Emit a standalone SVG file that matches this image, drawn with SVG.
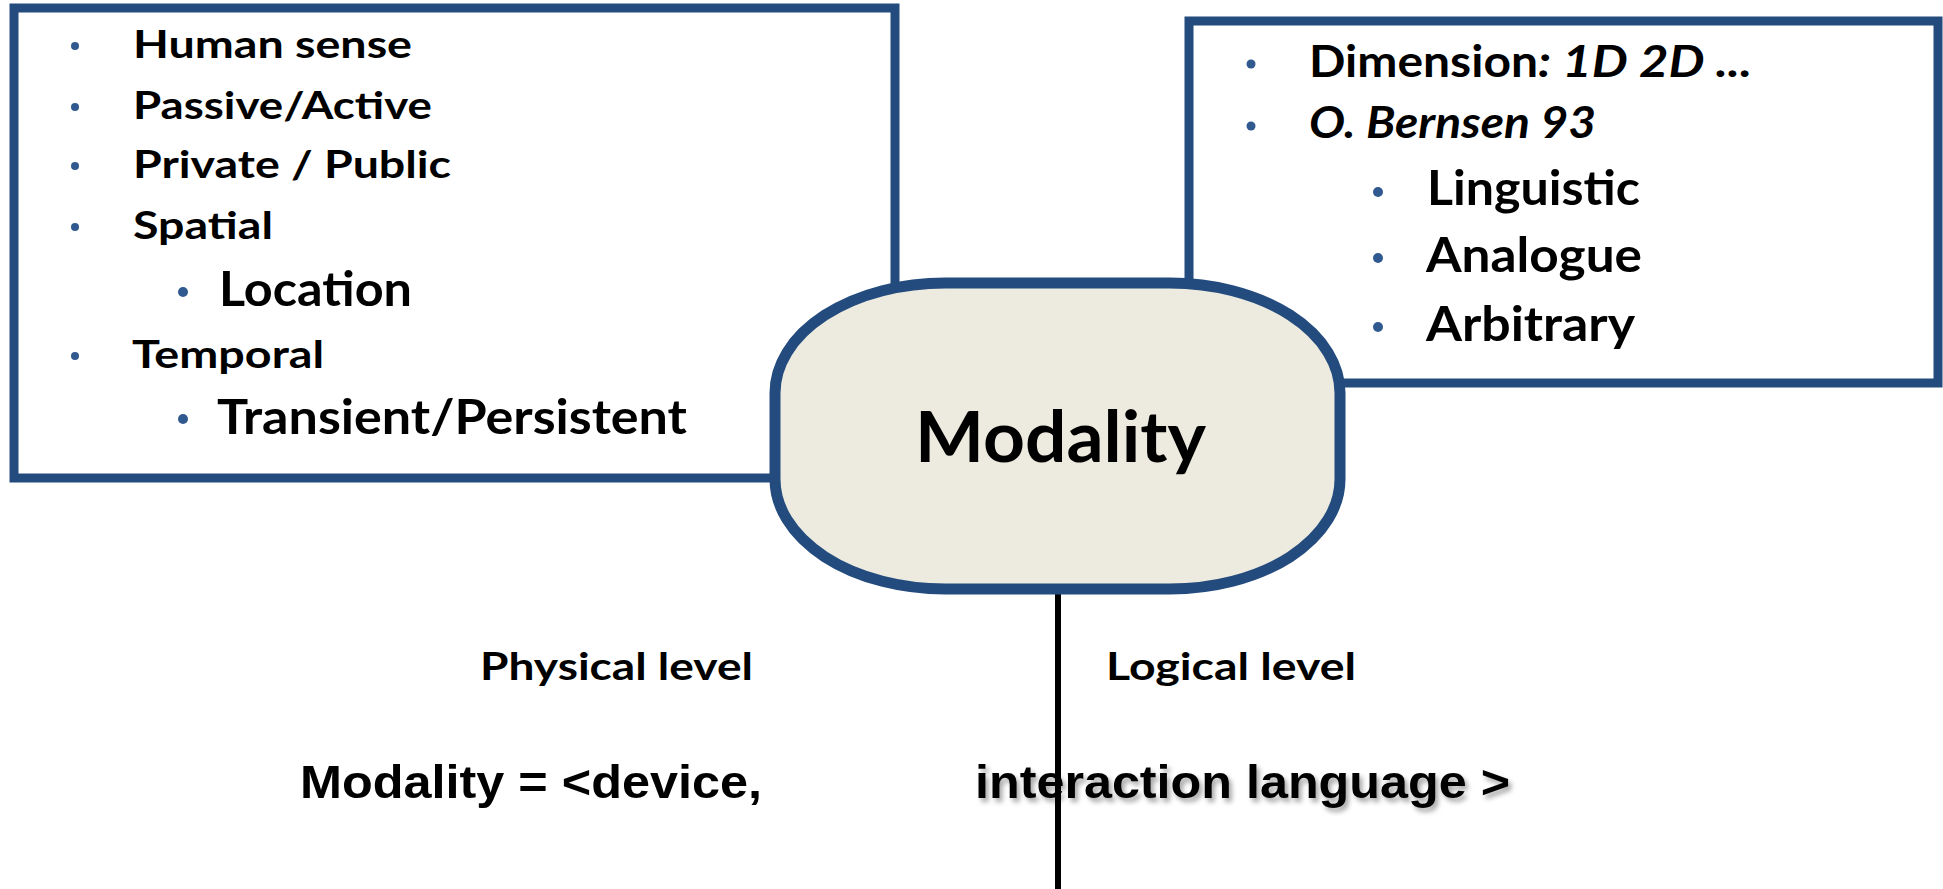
<svg xmlns="http://www.w3.org/2000/svg" width="1943" height="889" viewBox="0 0 1943 889">
<style>
.box{fill:#ffffff;stroke:#234B7D;stroke-width:9}
.node{fill:#EDEBE0;stroke:#234B7D;stroke-width:11}
.t{font-family:Lato,"Liberation Sans",sans-serif;font-weight:bold;fill:#000}
.it{font-style:italic}
.a{font-family:"Liberation Sans",Arial,sans-serif;font-weight:bold;fill:#000}
.dot{fill:#30598F}
.conn{stroke:#000;stroke-width:6;fill:none}
</style>
<defs>
<filter id="sh" x="-5%" y="-30%" width="110%" height="160%">
<feDropShadow dx="3" dy="4" stdDeviation="2.5" flood-color="#000" flood-opacity="0.35"/>
</filter>
</defs>
<rect width="1943" height="889" fill="#ffffff"/>
<g id="connectors">
<line class="conn" x1="1058" y1="589" x2="1058" y2="889"/>
</g>
<g id="physical-box">
<rect class="box" x="14" y="8" width="881" height="470"/>
<circle class="dot" cx="75" cy="46" r="4"/>
<circle class="dot" cx="75" cy="107" r="4"/>
<circle class="dot" cx="75" cy="166" r="4"/>
<circle class="dot" cx="75" cy="227" r="4"/>
<circle class="dot" cx="183" cy="292" r="5"/>
<circle class="dot" cx="75" cy="356" r="4"/>
<circle class="dot" cx="183" cy="419" r="5"/>
<text class="t" x="133" y="58" font-size="38" textLength="279" lengthAdjust="spacingAndGlyphs">Human sense</text>
<text class="t" x="133" y="119" font-size="38" textLength="299" lengthAdjust="spacingAndGlyphs">Passive/Active</text>
<text class="t" x="133" y="178" font-size="38" textLength="318" lengthAdjust="spacingAndGlyphs">Private / Public</text>
<text class="t" x="133" y="239" font-size="38" textLength="140" lengthAdjust="spacingAndGlyphs">Spatial</text>
<text class="t" x="219" y="306" font-size="47" textLength="193" lengthAdjust="spacingAndGlyphs">Location</text>
<text class="t" x="132" y="368" font-size="38" textLength="192" lengthAdjust="spacingAndGlyphs">Temporal</text>
<text class="t" x="217" y="434" font-size="47" textLength="470" lengthAdjust="spacingAndGlyphs">Transient/Persistent</text>
</g>
<g id="logical-box">
<rect class="box" x="1189" y="21" width="749" height="362"/>
<circle class="dot" cx="1251" cy="64" r="4.5"/>
<circle class="dot" cx="1251" cy="126" r="4.5"/>
<circle class="dot" cx="1378" cy="192" r="5"/>
<circle class="dot" cx="1378" cy="258" r="5"/>
<circle class="dot" cx="1378" cy="327" r="5"/>
<text class="t" x="1309" y="77" font-size="43" textLength="229" lengthAdjust="spacingAndGlyphs">Dimension</text>
<text class="t it" x="1538" y="77" font-size="43" textLength="214" lengthAdjust="spacingAndGlyphs">: 1D 2D ...</text>
<text class="t it" x="1309" y="138" font-size="43" textLength="287" lengthAdjust="spacingAndGlyphs">O. Bernsen 93</text>
<text class="t" x="1427" y="205" font-size="47" textLength="213" lengthAdjust="spacingAndGlyphs">Linguistic</text>
<text class="t" x="1426" y="272" font-size="47" textLength="216" lengthAdjust="spacingAndGlyphs">Analogue</text>
<text class="t" x="1426" y="341" font-size="47" textLength="209" lengthAdjust="spacingAndGlyphs">Arbitrary</text>
</g>
<g id="modality-node">
<rect class="node" x="775" y="283" width="565" height="306" rx="170" ry="110"/>
<text class="t" x="915" y="462" font-size="70" textLength="291" lengthAdjust="spacingAndGlyphs">Modality</text>
</g>
<g id="labels">
<text class="t" x="480" y="680" font-size="38" textLength="273" lengthAdjust="spacingAndGlyphs">Physical level</text>
<text class="t" x="1106" y="680" font-size="38" textLength="250" lengthAdjust="spacingAndGlyphs">Logical level</text>
<text class="a" x="300" y="798" font-size="46" textLength="462" lengthAdjust="spacingAndGlyphs">Modality = &lt;device,</text>
<text class="a" x="975" y="798" font-size="46" textLength="535" lengthAdjust="spacingAndGlyphs" filter="url(#sh)">interaction language &gt;</text>
</g>
</svg>
